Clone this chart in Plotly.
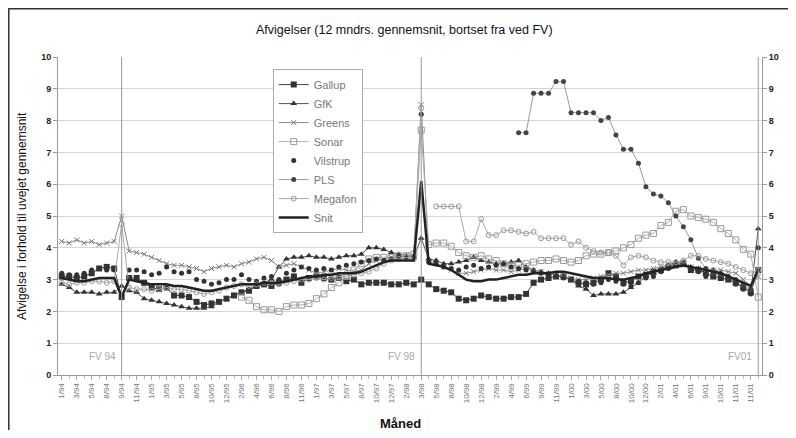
import plotly.graph_objects as go

# ---------------- data ----------------
tick_labels = ["1/94", "3/94", "5/94", "8/94", "9/94", "11/94",
               "1/95", "3/95", "5/95", "8/95", "10/95", "12/95",
               "2/96", "4/96", "6/96", "8/96", "11/96",
               "1/97", "3/97", "5/97", "8/97", "10/97", "12/97",
               "2/98", "3/98", "5/98", "8/98", "10/98", "12/98",
               "2/99", "4/99", "6/99", "9/99", "11/99",
               "1/00", "3/00", "5/00", "8/00", "10/00", "12/00",
               "2/01", "4/01", "6/01", "9/01", "10/01", "11/01", "11/01"]

N = None

gallup = [3.1, 3.1, 3.05, 3.1, 3.2, 3.35, 3.4, 3.35, 2.45, 3.05,
          3.05, 2.9, 2.75, 2.7, 2.75, 2.5, 2.5, 2.45, 2.3, 2.2,
          2.25, 2.3, 2.4, 2.5, 2.6, 2.65, 2.8, 2.85, 2.8, 2.9,
          3.0, 3.1, 2.9, 3.05, 3.1, 3.05, 3.0, 3.05, 2.95, 3.0,
          2.85, 2.9, 2.9, 2.9, 2.85, 2.85, 2.9, 2.85, 3.0, 2.85,
          2.7, 2.65, 2.6, 2.4, 2.35, 2.4, 2.5, 2.45, 2.4, 2.4,
          2.45, 2.45, 2.55, 2.9, 3.0, 3.05, 3.1, 3.1, 3.0, 2.9,
          2.85, 2.9, 3.0, 3.2, 3.1, 2.9, 2.95, 3.1, 3.15, 3.25,
          3.3, 3.4, 3.45, 3.5, 3.3, 3.3, 3.2, 3.1, 3.05, 3.0,
          2.9, 2.75, 2.6, 3.3]

gfk = [2.85, 2.75, 2.6, 2.6, 2.6, 2.55, 2.6, 2.6, 2.8, 2.65,
       2.6, 2.4, 2.35, 2.3, 2.25, 2.2, 2.15, 2.1, 2.1, 2.1,
       2.15, 2.3, 2.4, 2.5, 2.6, 2.7, 2.8, 2.9, 3.0, 3.4,
       3.65, 3.7, 3.7, 3.75, 3.7, 3.7, 3.65, 3.7, 3.75, 3.75,
       3.8, 4.0, 4.0, 3.95, 3.85, 3.8, 3.75, 3.7, 4.3, 3.65,
       3.6, 3.5, 3.5, 3.55, 3.6, 3.7, 3.6, 3.55, 3.5, 3.5,
       3.55, 3.6, 3.4, 3.3, 3.25, 3.2, 3.15, 3.1, 3.0, 2.8,
       2.7, 2.5, 2.55, 2.55, 2.55, 2.6, 2.75, 2.9, 3.1, 3.2,
       3.35, 3.45, 3.55, 3.5, 3.4, 3.35, 3.3, 3.3, 3.2, 3.1,
       2.9, 2.75, 2.6, 4.6]

greens = [4.2, 4.15, 4.25, 4.15, 4.2, 4.1, 4.15, 4.2, 5.0, 3.9,
          3.85, 3.8, 3.7, 3.6, 3.5, 3.45, 3.45, 3.4, 3.35, 3.25,
          3.35, 3.4, 3.45, 3.4, 3.5, 3.55, 3.65, 3.7, 3.6, 3.4,
          3.45, 3.5, 3.4, 3.3, 3.2, 3.25, 3.3, 3.35, 3.3, 3.25,
          3.3, 3.5, 3.6, 3.65, 3.7, 3.7, 3.75, 3.75, 8.5, 3.6,
          3.5, 3.4, 3.3, 3.2, 3.2, 3.25, 3.3, 3.35, 3.3, 3.3,
          3.25, 3.3, 3.35, 3.3, 3.25, 3.2, 3.15, 3.1, 3.05, 3.0,
          3.0, 3.05, 3.1, 3.15, 3.2, 3.2, 3.25, 3.3, 3.3, 3.35,
          3.4, 3.45, 3.5, 3.45, 3.4, 3.35, 3.3, 3.3, 3.3, 3.25,
          3.2, 3.0, 2.8, 3.1]

sonar = [N, N, N, N, N, N, N, N, N, N,
         N, N, N, N, N, N, N, N, N, N,
         N, N, N, N, 2.45, 2.35, 2.15, 2.05, 2.05, 2.0,
         2.15, 2.2, 2.2, 2.25, 2.4, 2.55, 2.75, 2.9, 3.1, 3.3,
         3.5, 3.65, 3.7, 3.7, 3.7, 3.75, 3.75, 3.8, 7.7, 4.1,
         4.15, 4.15, 4.05, 3.85, 3.75, 3.7, 3.75, 3.65, 3.6, 3.5,
         3.45, 3.45, 3.5, 3.55, 3.6, 3.6, 3.65, 3.6, 3.55, 3.6,
         3.75, 3.8, 3.8, 3.85, 3.9, 4.0, 4.1, 4.3, 4.4, 4.45,
         4.7, 4.8, 5.15, 5.2, 5.0, 4.95, 4.9, 4.8, 4.6, 4.45,
         4.25, 3.95, 3.8, 2.45]

vilstrup = [3.2, 3.15, 3.15, 3.2, 3.3, 3.35, 3.3, 3.3, N, 3.3,
            3.3, 3.25, 3.15, 3.2, 3.4, 3.25, 3.2, 3.25, 3.0, 2.95,
            2.85, 2.9, 3.0, 3.0, 3.15, 3.0, 2.95, 3.05, 3.1, 3.0,
            3.2, 3.3, 3.4, 3.35, 3.3, 3.35, 3.3, 3.4, 3.45, 3.5,
            3.55, 3.6, 3.65, 3.6, 3.65, 3.7, 3.7, 3.7, 8.2, 3.55,
            3.5, 3.4, 3.35, 3.3, 3.4, 3.45, 3.35, 3.4, 3.45, 3.5,
            3.4, 3.35, 3.3, 3.25, 3.2, 3.15, 3.1, 3.05, 3.0, 2.95,
            2.9, 2.85, 2.9, 3.0, 2.95, 2.85, 2.8, 2.9, 3.05, 3.1,
            3.25, 3.35, 3.45, 3.55, 3.3, 3.25, 3.1, 3.1, 3.05, 3.0,
            2.85, 2.7, 2.55, 4.0]

pls = [N, N, N, N, N, N, N, N, N, N,
       N, N, N, N, N, N, N, N, N, N,
       N, N, N, N, N, N, N, N, N, N,
       N, N, N, N, N, N, N, N, N, N,
       N, N, N, N, N, N, N, N, N, N,
       N, N, N, N, N, N, N, N, N, N,
       N, 7.62, 7.62, 8.86, 8.86, 8.86, 9.23, 9.23, 8.25, 8.25,
       8.25, 8.25, 8.0, 8.1, 7.55, 7.1, 7.1, 6.66, 5.92, 5.69,
       5.63, 5.42, 5.0, 4.66, 4.25, 3.67, 3.35, 3.2, 3.15, 3.1,
       3.0, 2.85, 2.7, N]

megafon = [2.9, 2.85, 2.9, 2.9, 2.95, 2.95, 2.9, 2.95, 4.75, 2.75,
           2.7, 2.7, 2.65, 2.7, 2.75, 2.7, 2.7, 2.65, 2.6, 2.55,
           2.6, 2.65, 2.75, 2.8, 2.85, 2.8, 2.85, 2.9, 2.9, 2.85,
           2.9, 2.95, 3.0, 3.0, 3.05, 3.0, 3.05, 3.1, 3.1, 3.15,
           3.2, 3.25, 3.35, 3.5, 3.6, 3.65, 3.7, 3.65, 8.4, N,
           5.3, 5.3, 5.3, 5.3, 4.2, 4.2, 4.9, 4.4, 4.4, 4.55,
           4.55, 4.5, 4.45, 4.5, 4.3, 4.3, 4.3, 4.3, 4.1, 4.2,
           4.0, 3.9, 3.85, 3.85, 3.75, 3.45, 3.7, 3.75, 3.7, 3.6,
           3.55, 3.55, 3.55, 3.6, 3.75, 3.75, 3.65, 3.6, 3.55, 3.5,
           3.4, 3.3, 3.2, 3.3]

snit = [3.05, 3.0, 2.95, 2.95, 3.0, 3.05, 3.05, 3.05, 2.45, 3.0,
        2.95, 2.9, 2.85, 2.85, 2.85, 2.8, 2.8, 2.75, 2.7, 2.65,
        2.65, 2.7, 2.75, 2.8, 2.85, 2.85, 2.85, 2.9, 2.9, 2.9,
        2.95, 3.0, 3.05, 3.1, 3.1, 3.15, 3.15, 3.2, 3.2, 3.2,
        3.25, 3.35, 3.45, 3.55, 3.6, 3.6, 3.6, 3.6, 6.1, 3.5,
        3.45, 3.4, 3.3, 3.15, 3.0, 2.95, 2.95, 3.0, 3.0, 3.05,
        3.1, 3.15, 3.15, 3.2, 3.2, 3.2, 3.25, 3.25, 3.2, 3.15,
        3.1, 3.05, 3.05, 3.05, 3.0, 3.0, 3.05, 3.1, 3.2, 3.25,
        3.3, 3.35, 3.4, 3.45, 3.4, 3.35, 3.3, 3.25, 3.2, 3.1,
        3.0, 2.9, 2.8, 3.3]

elections = [8, 48, 93]
election_labels = ["FV 94", "FV 98", "FV01"]

# ---------------- figure ----------------
n = len(snit)
x = list(range(n))
tick_pos = list(range(0, n, 2))[:len(tick_labels)]

FONT = "Arial, Liberation Sans, sans-serif"

fig = go.Figure()

fig.add_trace(go.Scatter(x=x, y=gallup, name="Gallup", mode="lines+markers",
                         line=dict(color="#444444", width=1),
                         marker=dict(symbol="square", size=6, color="#333333")))
fig.add_trace(go.Scatter(x=x, y=gfk, name="GfK", mode="lines+markers",
                         line=dict(color="#555555", width=1),
                         marker=dict(symbol="triangle-up", size=6, color="#333333")))
fig.add_trace(go.Scatter(x=x, y=greens, name="Greens", mode="lines+markers",
                         line=dict(color="#8a8a8a", width=1),
                         marker=dict(symbol="x-thin", size=5,
                                     line=dict(color="#777777", width=1))))
fig.add_trace(go.Scatter(x=x, y=sonar, name="Sonar", mode="lines+markers",
                         line=dict(color="#b0b0b0", width=1),
                         marker=dict(symbol="square-open", size=6, color="#999999")))
fig.add_trace(go.Scatter(x=x, y=vilstrup, name="Vilstrup", mode="markers",
                         marker=dict(symbol="circle", size=5, color="#333333")))
fig.add_trace(go.Scatter(x=x, y=pls, name="PLS", mode="lines+markers",
                         line=dict(color="#9a9a9a", width=1),
                         marker=dict(symbol="circle", size=5, color="#444444")))
fig.add_trace(go.Scatter(x=x, y=megafon, name="Megafon", mode="lines+markers",
                         line=dict(color="#aaaaaa", width=1),
                         marker=dict(symbol="circle-open", size=5, color="#999999")))
fig.add_trace(go.Scatter(x=x, y=snit, name="Snit", mode="lines",
                         line=dict(color="#222222", width=2.5)))
# invisible trace to carry the right-hand axis
fig.add_trace(go.Scatter(x=x, y=snit, yaxis="y2", mode="lines", opacity=0,
                         showlegend=False, hoverinfo="skip"))

for e, lab in zip(elections, election_labels):
    fig.add_vline(x=e, line=dict(color="#9a9a9a", width=1))
    fig.add_annotation(x=e, y=0.57, text=lab, showarrow=False, xanchor="right",
                       xshift=-4, font=dict(family=FONT, size=10, color="#a8a8a8"))

tickfont = dict(family=FONT, size=9, color="#222222", weight="bold")

# the page adds an 8px body margin, so the figure is sized to fit inside it
fig.update_layout(
    width=780, height=422,
    margin=dict(l=50, r=26, t=49, b=55),
    paper_bgcolor="white", plot_bgcolor="white",
    font=dict(family=FONT),
    title=dict(text="Afvigelser (12 mndrs. gennemsnit, bortset fra ved FV)",
               x=0.508, xanchor="center", y=0.948, yanchor="middle",
               font=dict(family=FONT, size=12.5, color="#111111")),
    xaxis=dict(range=[-0.5, n - 0.5], tickmode="array", tickvals=tick_pos,
               ticktext=tick_labels, tickangle=-90,
               tickfont=dict(family=FONT, size=8, color="#777777"),
               ticks="outside", ticklen=4, tickcolor="#aaaaaa",
               minor=dict(ticks="outside", ticklen=3, tick0=0, dtick=1,
                          tickcolor="#bbbbbb"),
               showline=True, linecolor="#999999", showgrid=False, zeroline=False,
               automargin=False),
    yaxis=dict(range=[0, 10], dtick=1, tick0=0, gridcolor="#d6d6d6",
               showline=True, linecolor="#999999", ticks="outside", ticklen=4,
               tickcolor="#999999", tickfont=tickfont, zeroline=False,
               automargin=False),
    yaxis2=dict(range=[0, 10], dtick=1, tick0=0, overlaying="y", side="right",
                showgrid=False, showline=True, linecolor="#999999",
                ticks="outside", ticklen=4, tickcolor="#999999",
                tickfont=tickfont, zeroline=False, automargin=False),
    legend=dict(x=0.305, xanchor="left", y=0.962, yanchor="top",
                bgcolor="white", bordercolor="#aaaaaa", borderwidth=1,
                font=dict(family=FONT, size=11, color="#777777"),
                tracegroupgap=0),
    showlegend=True,
)

fig.add_annotation(text="Afvigelse i forhold til uvejet gennemsnit",
                   xref="paper", yref="paper", x=-0.051, y=0.5, textangle=-90,
                   showarrow=False, xanchor="center", yanchor="middle",
                   font=dict(family=FONT, size=12, color="#111111"))
fig.add_annotation(text="Måned", xref="paper", yref="paper", x=0.486, y=-0.151,
                   showarrow=False, xanchor="center", yanchor="middle",
                   font=dict(family=FONT, size=13, color="#111111", weight="bold"))

# outer chart frame
fig.add_shape(type="rect", xref="paper", yref="paper",
              x0=-0.0699, x1=1.06, y0=-0.22, y1=1.152,
              line=dict(color="#333333", width=1.5), fillcolor="rgba(0,0,0,0)")

fig.write_html("out.html")
